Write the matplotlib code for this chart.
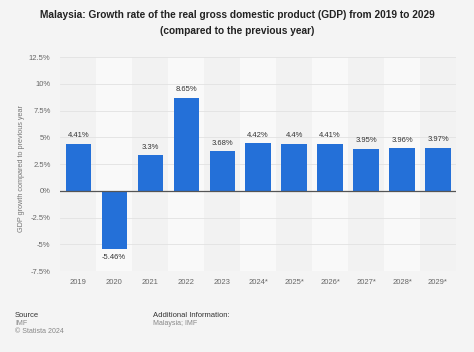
import matplotlib.pyplot as plt
import numpy as np

plt.rcParams['font.family'] = ['Liberation Sans', 'DejaVu Sans']

years = ['2019', '2020', '2021', '2022', '2023', '2024*', '2025*', '2026*', '2027*', '2028*', '2029*']
growth = [4.41, -5.46, 3.3, 8.65, 3.68, 4.42, 4.4, 4.41, 3.95, 3.96, 3.97]
labels = ['4.41%', '-5.46%', '3.3%', '8.65%', '3.68%', '4.42%', '4.4%', '4.41%', '3.95%', '3.96%', '3.97%']
yticks = [-7.5, -5, -2.5, 0, 2.5, 5, 7.5, 10, 12.5]
ytick_labels = ['-7.5%', '-5%', '-2.5%', '0%', '2.5%', '5%', '7.5%', '10%', '12.5%']

bg = '#f4f4f4'
fig = plt.figure(figsize=(4.74, 3.52), dpi=100, facecolor=bg)
ax = fig.add_axes([0.127, 0.230, 0.835, 0.608])
ax.set_facecolor('#f9f9f9')

x = np.arange(len(years))
# alternating column shading
for i in x:
    if i % 2 == 0:
        ax.axvspan(i - 0.5, i + 0.5, color='#f2f2f2', zorder=0, lw=0)

for t in yticks:
    ax.axhline(t, color='#e2e2e2', lw=0.6, zorder=1)

ax.bar(x, growth, width=0.7, color='#2470d8', zorder=2)
ax.axhline(0, color='#555555', lw=0.9, zorder=3)

for xi, v, lab in zip(x, growth, labels):
    off = 0.45 if v >= 0 else -0.45
    ax.text(xi, v + off, lab, ha='center', va='bottom' if v >= 0 else 'top',
            fontsize=5.5, color='#333333', zorder=4)

ax.set_xlim(-0.5, len(years) - 0.5)
ax.set_ylim(-7.5, 12.5)
ax.set_yticks(yticks)
ax.set_yticklabels(ytick_labels)
ax.set_xticks(x)
ax.set_xticklabels(years)
ax.tick_params(axis='both', length=0, labelsize=5.5, labelcolor='#666666')
ax.tick_params(axis='y', pad=7)
ax.tick_params(axis='x', pad=6)
for s in ax.spines.values():
    s.set_visible(False)
ax.set_ylabel('GDP growth compared to previous year', fontsize=5.2, color='#777777')
ax.yaxis.set_label_coords(-0.088, 0.48)

fig.text(0.5, 0.957, 'Malaysia: Growth rate of the real gross domestic product (GDP) from 2019 to 2029',
         ha='center', va='center', fontsize=7.3, fontweight='bold', color='#222222')
fig.text(0.5, 0.911, '(compared to the previous year)',
         ha='center', va='center', fontsize=7.3, fontweight='bold', color='#222222')

fig.text(0.032, 0.105, 'Source', fontsize=5.5, color='#333333', va='center')
fig.text(0.032, 0.080, 'IMF', fontsize=5, color='#888888', va='center')
fig.text(0.032, 0.058, '\u00a9 Statista 2024', fontsize=5, color='#888888', va='center')
fig.text(0.323, 0.105, 'Additional Information:', fontsize=5.5, color='#333333', va='center')
fig.text(0.323, 0.080, 'Malaysia; IMF', fontsize=5, color='#888888', va='center')

fig.savefig('out.png', dpi=100, facecolor=bg)
